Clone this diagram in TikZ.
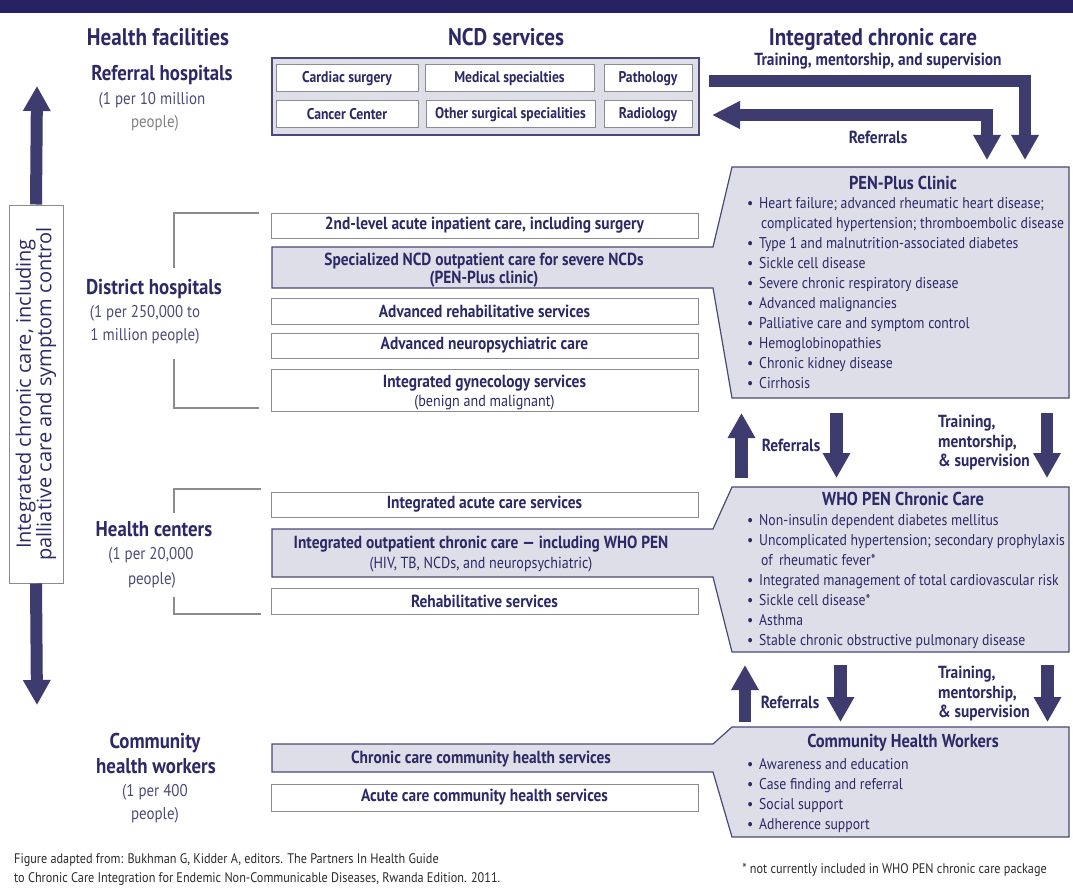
\documentclass[tikz,border=0pt]{standalone}
\usepackage{fontspec}
\setmainfont{PT Sans}[FakeStretch=0.88]
\newfontfamily\PihRot{Open Sans}
\usetikzlibrary{arrows.meta}

\definecolor{navy}{HTML}{2B2966}
\definecolor{arrowc}{HTML}{3E3B6E}
\definecolor{lav}{HTML}{DEDEE8}
\definecolor{edgec}{HTML}{4A4878}
\definecolor{boxgray}{HTML}{8C8C8C}
\definecolor{bandc}{HTML}{262262}
\definecolor{subgray}{HTML}{808080}
\definecolor{subnavy}{HTML}{4B4A78}
\definecolor{notec}{HTML}{2A2A2A}

\newcommand\PihHead{\fontsize{24}{28}\selectfont\bfseries}
\newcommand\PihTier{\fontsize{21.4}{25}\selectfont\bfseries}
\newcommand\PihTierSub{\fontsize{17}{23}\selectfont}
\newcommand\PihBox{\fontsize{17.5}{18}\selectfont\bfseries}
\newcommand\PihSubline{\fontsize{16}{19}\selectfont\mdseries}
\newcommand\PihNcd{\fontsize{15.5}{17}\selectfont\bfseries}
\newcommand\PihTitle{\fontsize{18.7}{20}\selectfont\bfseries}
\newcommand\PihList{\fontsize{15.6}{20}\selectfont}
\newcommand\PihNote{\fontsize{13.9}{19}\selectfont}
\newcommand\Bul{\llap{\textbullet\hspace{6pt}}}

\tikzset{
  head/.style={text=navy, font=\PihHead, inner sep=0},
  tier/.style={text=navy, font=\PihTier, inner sep=0},
  tiersub/.style={text=subnavy, font=\PihTierSub, inner sep=0},
  wbox/.style={draw=boxgray, line width=1pt, fill=white, text=navy,
    font=\PihBox, inner sep=0, align=center},
  ncdbox/.style={wbox, font=\PihNcd},
  lavbox/.style={draw=edgec, line width=1.2pt, fill=lav, inner sep=0},
  lavshape/.style={draw=edgec, line width=1.2pt, fill=lav},
  lbl/.style={text=navy, font=\PihBox, inner sep=0, align=center},
  ttl/.style={text=navy, font=\PihTitle, inner sep=0},
  listtxt/.style={text=navy, font=\PihList, inner sep=0, anchor=base west},
  note/.style={text=notec, font=\PihNote, inner sep=0},
  bracket/.style={draw=boxgray, line width=1.1pt},
  bigarrow/.style={draw=arrowc, line width=12.5pt,
    -{Triangle[width=26pt,length=25pt]}},
  twoway/.style={draw=arrowc, line width=12pt, line join=miter,
    {Triangle[width=26pt,length=28pt]}-{Triangle[width=26pt,length=25pt]}},
}

\begin{document}
\begin{tikzpicture}[x=1pt,y=-1pt]
\useasboundingbox (0,0) rectangle (1073,888);

% top band
\fill[bandc] (0,0) rectangle (1073,13);

% column headings
\node[head] (hFac) at (158,37) {Health facilities};
\node[head] (hNcd) at (506,37) {NCD services};
\node[head] (hIcc) at (873,39.5) {Integrated chronic care};

% tiers of the health system
\node[tier] (tRef) at (162,75) {Referral hospitals};
\node[tiersub] (tRefA) at (152,100) {(1 per 10 million};
\node[tiersub, text=subgray] (tRefB) at (155,123) {people)};

\node[tier] (tDis) at (154,289) {District hospitals};
\node[tiersub] (tDisA) at (145,313) {(1 per 250,000 to};
\node[tiersub] (tDisB) at (145,336) {1 million people)};

\node[tier] (tHc) at (154,529) {Health centers};
\node[tiersub] (tHcA) at (151,555) {(1 per 20,000};
\node[tiersub] (tHcB) at (152,580) {people)};

\node[tier] (tChwA) at (155,743) {Community};
\node[tier] (tChwB) at (156,766) {health workers};
\node[tiersub] (tChwC) at (155,792) {(1 per 400};
\node[tiersub] (tChwD) at (155,815) {people)};

% brackets
\draw[bracket] (259,213) -- (174,213) -- (174,268);
\draw[bracket] (174,359) -- (174,408) -- (259,408);
\draw[bracket] (261,489) -- (174,489) -- (174,513);
\draw[bracket] (174,597) -- (174,614) -- (261,614);

% referral hospital services
\node[lavbox, minimum width=427pt, minimum height=77pt] (refBox) at (485.5,96.5) {};
\node[ncdbox, minimum width=142pt, minimum height=27pt] (cardiac) at (347,78.5) {Cardiac surgery};
\node[ncdbox, minimum width=169pt, minimum height=27pt] (medspec) at (509.5,78.5) {Medical specialties};
\node[ncdbox, minimum width=88pt, minimum height=27pt] (patho) at (648,78.5) {Pathology};
\node[ncdbox, minimum width=142pt, minimum height=27pt] (cancer) at (347,114.5) {Cancer Center};
\node[ncdbox, minimum width=169pt, minimum height=27pt] (othsurg) at (510.5,114.5) {Other surgical specialities};
\node[ncdbox, minimum width=88pt, minimum height=27pt] (radio) at (648,114.5) {Radiology};

% PEN-Plus clinic with its district service tab
\draw[lavshape] (272,247) -- (713,247) -- (732,167) -- (1069,167) -- (1069,398)
  -- (732,398) -- (713,288) -- (272,288) -- cycle;
% WHO PEN with its health centre service tab
\draw[lavshape] (272,529) -- (713,529) -- (732,487) -- (1069,487) -- (1069,652)
  -- (732,652) -- (713,577) -- (272,577) -- cycle;
% community health workers with its service tab
\draw[lavshape] (272,744) -- (713,744) -- (732,727) -- (1069,727) -- (1069,837)
  -- (732,837) -- (713,772) -- (272,772) -- cycle;

% district hospital services
\node[wbox, minimum width=427pt, minimum height=25pt] (acute2) at (484.5,225.5) {2nd-level acute inpatient care, including surgery};
\node[lbl] (spec) at (484,270.5) {Specialized NCD outpatient care for severe NCDs\\(PEN-Plus clinic)};
\node[wbox, minimum width=427pt, minimum height=26pt] (advrehab) at (484.5,311) {Advanced rehabilitative services};
\node[wbox, minimum width=427pt, minimum height=25pt] (advneuro) at (484.5,345.5) {Advanced neuropsychiatric care};
\node[wbox, minimum width=427pt, minimum height=42pt] (gyn) at (484.5,390) {};
\node[lbl, font={\fontsize{17.5}{19}\selectfont\bfseries}] (gynT) at (gyn.center) [yshift=-3pt] {Integrated gynecology services\\{\PihSubline (benign and malignant)}};

% health centre services
\node[wbox, minimum width=427pt, minimum height=25pt] (intacute) at (484.5,504.5) {Integrated acute care services};
\node[lbl, font={\fontsize{17.5}{20}\selectfont\bfseries}] (intout) at (481,554.5) {Integrated outpatient chronic care --- including WHO PEN\\{\PihSubline (HIV, TB, NCDs, and neuropsychiatric)}};
\node[wbox, minimum width=427pt, minimum height=26pt] (rehab) at (484.5,601) {Rehabilitative services};

% community services
\node[lbl] (chroncom) at (481,759.5) {Chronic care community health services};
\node[wbox, minimum width=427pt, minimum height=27pt] (acutecom) at (484.5,797.5) {Acute care community health services};

% PEN-Plus clinic content
\node[ttl] (penT) at (903,183) {PEN-Plus Clinic};
\foreach \t [count=\i] in {
  {\Bul Heart failure; advanced rheumatic heart disease;},
  {\hspace*{2pt}complicated hypertension; thromboembolic disease},
  {\Bul Type 1 and malnutrition-associated diabetes},
  {\Bul Sickle cell disease},
  {\Bul Severe chronic respiratory disease},
  {\Bul Advanced malignancies},
  {\Bul Palliative care and symptom control},
  {\Bul Hemoglobinopathies},
  {\Bul Chronic kidney disease},
  {\Bul Cirrhosis}}
  \node[listtxt] (pen\i) at (759,{188+20*\i}) {\t};

% WHO PEN content
\node[ttl] (whoT) at (903,499) {WHO PEN Chronic Care};
\foreach \t [count=\i] in {
  {\Bul Non-insulin dependent diabetes mellitus},
  {\Bul Uncomplicated hypertension; secondary prophylaxis},
  {\hspace*{2pt}of\, rheumatic fever*},
  {\Bul Integrated management of total cardiovascular risk},
  {\Bul Sickle cell disease*},
  {\Bul Asthma},
  {\Bul Stable chronic obstructive pulmonary disease}}
  \node[listtxt] (who\i) at (759,{505+20*\i}) {\t};

% community health worker content
\node[ttl] (chwT) at (903,743) {Community Health Workers};
\foreach \t [count=\i] in {
  {\Bul Awareness and education},
  {\Bul Case finding and referral},
  {\Bul Social support},
  {\Bul Adherence support}}
  \node[listtxt] (chw\i) at (759,{749+20*\i}) {\t};

% integrated chronic care spanning all levels
\node[draw=boxgray, line width=1pt, fill=white, rotate=90, minimum width=378pt,
  minimum height=54pt, inner sep=0, align=center, text=navy,
  font={\PihRot\fontsize{20}{20.5}\selectfont}] (icc) at (36,394)
  {Integrated chronic care, including\\palliative care and symptom control};
\coordinate (iccUp) at (37,86);
\coordinate (iccDown) at (37,705);
\draw[bigarrow, line width=12pt] (icc.east) -- (iccUp);
\draw[bigarrow, line width=12pt] (icc.west) -- (iccDown);

% referral level arrows
\coordinate (trainS) at (709,81);
\coordinate (trainE) at (1025,160);
\draw[bigarrow, line width=12pt, line join=miter] (trainS) -- (trainS -| trainE) -- (trainE);
\coordinate (refL) at (712,115);
\coordinate (refD) at (987,160);
\draw[twoway] (refL) -- (refL -| refD) -- (refD);
\node[lbl] (trainTop) at (878,61.5) {Training, mentorship, and supervision};
\node[lbl] (refTop) at (878,137) {Referrals};

% arrows between PEN-Plus and WHO PEN
\coordinate (a1s) at (741.5,478); \coordinate (a1e) at (741.5,413);
\coordinate (b1s) at (836.5,413); \coordinate (b1e) at (836.5,478);
\coordinate (c1s) at (1047,413);  \coordinate (c1e) at (1047,478);
\draw[bigarrow] (a1s) -- (a1e);
\draw[bigarrow] (b1s) -- (b1e);
\draw[bigarrow] (c1s) -- (c1e);
\node[lbl] (ref1) at (791,445) {Referrals};
\node[lbl, align=left, anchor=west, font={\fontsize{17.5}{19.5}\selectfont\bfseries}] (train1) at (938,443) {Training,\\mentorship,\\\& supervision};

% arrows between WHO PEN and community health workers
\coordinate (a2s) at (745,722);   \coordinate (a2e) at (745,665);
\coordinate (b2s) at (840.5,665); \coordinate (b2e) at (840.5,722);
\coordinate (c2s) at (1047.5,665); \coordinate (c2e) at (1047.5,722);
\draw[bigarrow] (a2s) -- (a2e);
\draw[bigarrow] (b2s) -- (b2e);
\draw[bigarrow] (c2s) -- (c2e);
\node[lbl] (ref2) at (790,702) {Referrals};
\node[lbl, align=left, anchor=west, font={\fontsize{17.5}{19.5}\selectfont\bfseries}] (train2) at (938,694) {Training,\\mentorship,\\\& supervision};

% source and footnote
\node[note, anchor=base west] (src1) at (14,863) {Figure adapted from: Bukhman G, Kidder A, editors. The Partners In Health Guide};
\node[note, anchor=base west] (src2) at (14,882) {to Chronic Care Integration for Endemic Non-Communicable Diseases, Rwanda Edition. 2011.};
\node[note, anchor=base east] (fn) at (1047,873) {* not currently included in WHO PEN chronic care package};
\end{tikzpicture}
\end{document}
